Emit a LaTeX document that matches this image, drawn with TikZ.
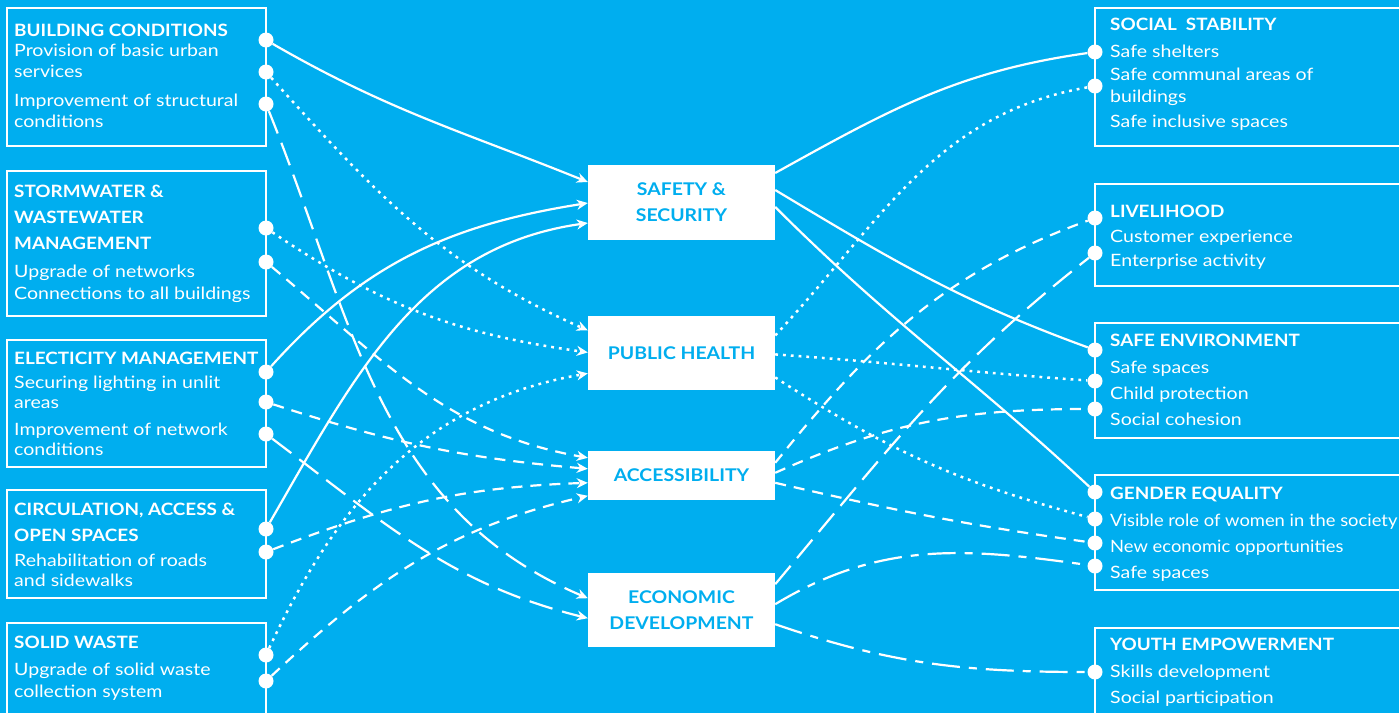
\documentclass[tikz,border=0pt]{standalone}
\usepackage{fontspec}
\setmainfont{Lato}[FakeStretch=1.15]
\newfontfamily\headfont{Lato}[FakeStretch=1.11]
\newfontfamily\narrowfont{Lato}[FakeStretch=1.08]
\newcommand{\boxtitle}[1]{{\headfont\bfseries #1}}
\usetikzlibrary{arrows.meta,positioning}
\definecolor{sky}{HTML}{00AEEF}

\begin{document}
\begin{tikzpicture}[
  x=1pt,y=1pt,
  font=\fontsize{17}{21}\selectfont,
  lframe/.style={draw=white,line width=1.6pt,minimum width=259,minimum height=#1,anchor=north west,inner sep=0,outer sep=0},
  rframe/.style={lframe=#1,minimum width=330},
  txt/.style={align=left,inner sep=0,text=white},
  hub/.style={fill=white,minimum width=187,minimum height=#1,align=center,inner sep=0,text=sky,font=\fontsize{17.5}{26}\headfont\bfseries\selectfont},
  dot/.style={circle,fill=white,minimum size=15,inner sep=0},
  link/.style={white,line width=2.2pt},
  safe/.style={link},
  health/.style={link,line width=2.5pt,dash pattern=on 2.8pt off 5pt},
  access/.style={link,dash pattern=on 11pt off 8pt},
  econ/.style={link,dash pattern=on 24pt off 10pt},
  econdot/.style={link,dash pattern=on 28pt off 9pt on 8pt off 9pt},
  arrow/.style={-{Stealth[length=11pt,width=10pt,inset=3.5pt]}}
]
\useasboundingbox (0,0) rectangle (1399,-713);
\fill[sky] (0,0) rectangle (1399,-713);

\node[lframe=138] (bc) at (7,-8) {};
\node[lframe=145,below=25 of bc] (sw) {};
\node[lframe=127,below=24 of sw] (el) {};
\node[lframe=108,below=23 of el] (ci) {};
\node[lframe=110,below=25 of ci] (sl) {};

\node[txt,below right=16 and 7 of bc.north west] (bct)
  {\boxtitle{BUILDING CONDITIONS}\\[-1pt]Provision of basic urban\\services\\[8pt]Improvement of structural\\conditions};
\node[txt,below right=14 and 7 of sw.north west] (swt)
  {\boxtitle{STORMWATER \&}\\[5pt]\boxtitle{WASTEWATER}\\[5pt]\boxtitle{MANAGEMENT}\\[7pt]Upgrade of networks\\[1pt]Connections to all buildings};
\node[txt,below right=12 and 7 of el.north west] (elt)
  {\boxtitle{ELECTICITY MANAGEMENT}\\[3pt]Securing lighting in unlit\\[-1pt]areas\\[6pt]Improvement of network\\[-1pt]conditions};
\node[txt,below right=13 and 7 of ci.north west] (cit)
  {\boxtitle{CIRCULATION, ACCESS \&}\\[5pt]\boxtitle{OPEN SPACES}\\[4pt]Rehabilitation of roads\\[-1pt]and sidewalks};
\node[txt,below right=13 and 7 of sl.north west] (slt)
  {\boxtitle{SOLID WASTE}\\[6pt]Upgrade of solid waste\\[1pt]collection system};

\node[rframe=138] (so) at (1095,-8) {};
\node[rframe=102,below=38 of so] (li) {};
\node[rframe=115,below=37 of li] (se) {};
\node[rframe=115,below=37 of se] (ge) {};
\node[rframe=110,below=38 of ge] (yo) {};

\node[txt,below right=10 and 15 of so.north west] (sot)
  {\boxtitle{SOCIAL\ \ STABILITY}\\[6pt]Safe shelters\\[2pt]Safe communal areas of\\[1pt]buildings\\[4pt]Safe inclusive spaces};
\node[txt,below right=21 and 15 of li.north west] (lit)
  {\boxtitle{LIVELIHOOD}\\[4pt]Customer experience\\[3pt]Enterprise activity};
\node[txt,below right=11 and 15 of se.north west] (set)
  {\boxtitle{SAFE ENVIRONMENT}\\[6pt]Safe spaces\\[5pt]Child protection\\[5pt]Social cohesion};
\node[txt,below right=12 and 15 of ge.north west] (get)
  {\boxtitle{GENDER EQUALITY}\\[6pt]{\narrowfont Visible role of women in the society}\\[5pt]{\narrowfont New economic opportunities}\\[5pt]Safe spaces};
\node[txt,below right=10 and 15 of yo.north west] (yot)
  {\boxtitle{YOUTH EMPOWERMENT}\\[6pt]Skills development\\[5pt]Social participation};

\node[hub=75] (ss) at (681.5,-202.5) {SAFETY \&\\SECURITY};
\node[hub=74,below=76 of ss] (ph) {PUBLIC HEALTH};
\node[hub=49,below=60 of ph] (acc) {ACCESSIBILITY};
\node[hub=74,below=73 of acc] (ed) {ECONOMIC\\DEVELOPMENT};

\node[dot] (bc1) at (266,-40) {};
\node[dot] (bc2) at (266,-72) {};
\node[dot] (bc3) at (266,-104) {};
\node[dot] (sw1) at (266,-228) {};
\node[dot] (sw2) at (266,-262) {};
\node[dot] (el1) at (266,-372) {};
\node[dot] (el2) at (266,-402) {};
\node[dot] (el3) at (266,-434) {};
\node[dot] (ci1) at (266,-529) {};
\node[dot] (ci2) at (266,-552) {};
\node[dot] (sl1) at (266,-655) {};
\node[dot] (sl2) at (266,-681) {};

\node[dot] (so1) at (1095,-52) {};
\node[dot] (so2) at (1095,-86) {};
\node[dot] (li1) at (1095,-218) {};
\node[dot] (li2) at (1095,-253) {};
\node[dot] (se1) at (1095,-350) {};
\node[dot] (se2) at (1095,-381) {};
\node[dot] (se3) at (1095,-409) {};
\node[dot] (ge1) at (1095,-492) {};
\node[dot] (ge2) at (1095,-519) {};
\node[dot] (ge3) at (1095,-543) {};
\node[dot] (ge4) at (1095,-566) {};
\node[dot] (yo1) at (1095,-672) {};

\draw[safe,arrow] (bc1) to[out=-30,in=158] ([yshift=20.5]ss.west);
\draw[health,arrow] (bc2) to[out=-48,in=156] ([yshift=23]ph.west);
\draw[econ,arrow] (bc3) to[out=-68,in=157] ([yshift=12]ed.west);
\draw[health,arrow] (sw1) to[out=-34,in=172] ([yshift=1]ph.west);
\draw[access,arrow] (sw2) to[out=-40,in=170] ([yshift=17.5]acc.west);
\draw[safe,arrow] (el1) to[out=48,in=189] ([yshift=-0.5]ss.west);
\draw[access,arrow] (el2) to[out=-18,in=175] ([yshift=6.5]acc.west);
\draw[econ,arrow] (el3) to[out=-37,in=166] ([yshift=-8]ed.west);
\draw[safe,arrow] (ci1) to[out=60,in=188] ([yshift=-20.5]ss.west);
\draw[access,arrow] (ci2) to[out=21,in=182] ([yshift=-7.5]acc.west);
\draw[health,arrow] (sl1) to[out=65,in=190] ([yshift=-20]ph.west);
\draw[access,arrow] (sl2) to[out=43,in=193] ([yshift=-20.5]acc.west);

\draw[safe] ([yshift=29.5]ss.east) to[out=29,in=188] (so1);
\draw[safe] ([yshift=12.5]ss.east) to[out=-31,in=160] (se1);
\draw[safe] ([yshift=-4.5]ss.east) to[out=-45,in=137] (ge1);
\draw[health] ([yshift=18]ph.east) to[out=47,in=190] (so2);
\draw[health] ([yshift=-1]ph.east) to[out=-4,in=176] (se2);
\draw[health] ([yshift=-24]ph.east) to[out=-33,in=165] (ge2);
\draw[access] ([yshift=12.5]acc.east) to[out=51,in=200] (li1);
\draw[access] ([yshift=2.5]acc.east) to[out=24,in=180] (se3);
\draw[access] ([yshift=-7.5]acc.east) to[out=-13,in=172] (ge3);
\draw[econ] ([yshift=26]ed.east) to[out=50,in=218] (li2);
\draw[econdot] ([yshift=6]ed.east) to[out=31,in=172] (ge4);
\draw[econdot] ([yshift=-14]ed.east) to[out=-19,in=180] (yo1);
\end{tikzpicture}
\end{document}
